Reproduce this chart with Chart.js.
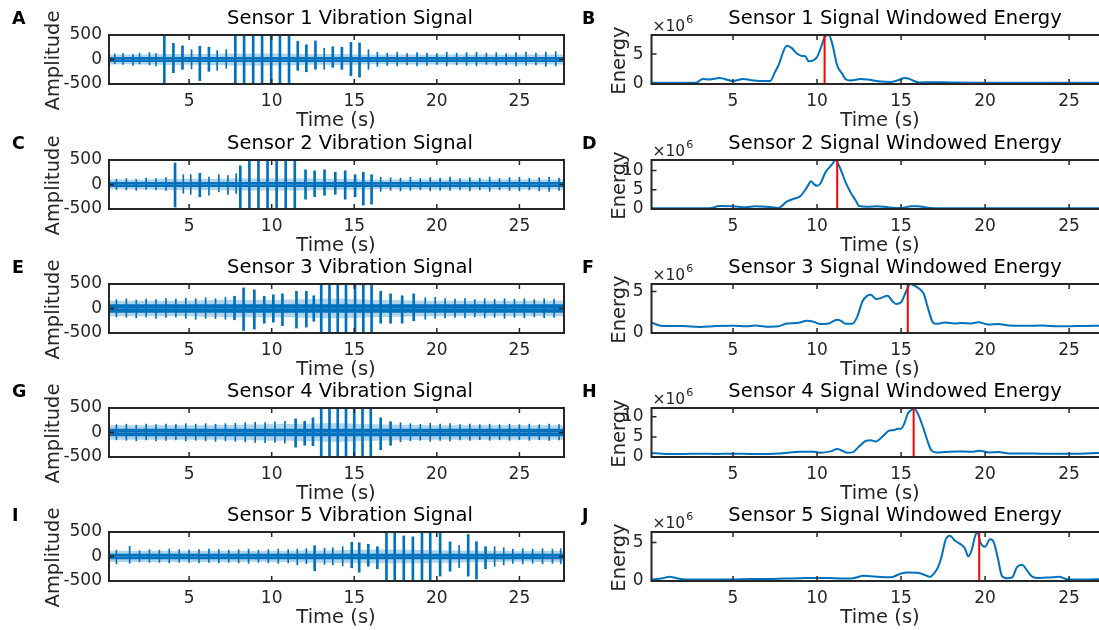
<!DOCTYPE html>
<html><head><meta charset="utf-8">
<script src="https://cdn.jsdelivr.net/npm/chart.js@4.4.1/dist/chart.umd.min.js"></script>
<style>
html,body{margin:0;padding:0;background:#fff;overflow:hidden;}
#fig{position:relative;width:1099px;height:630px;overflow:hidden;background:#fff;}
#fig canvas{position:absolute;}
</style></head><body><div id="fig"></div>
<script>
// ---------- DATA ----------
const xTicks = [5, 10, 15, 20, 25];
const ampTicks = [-500, 0, 500];
const energyTicks = [[0, 5], [0, 5, 10], [0, 5], [0, 5, 10], [0, 5]];
const energyMax = [8.2, 12.7, 5.9, 12.2, 6.38];      // x10^6
const peakTimes = [10.45, 11.2, 15.4, 15.75, 19.65];
const coreBand = [50, 50, 85, 75, 55];
const fuzzTimes = [0, 2, 4, 6, 8, 10, 12, 14, 16, 18, 20, 22, 24, 26, 28];
const s1Fuzz = [100,100,110,110,120,120,110,110,100,100,100,100,100,100,100];
const s2Fuzz = [100,100,110,110,120,120,120,110,100,100,100,100,100,100,100];
const s3Fuzz = [160,160,160,170,180,180,190,200,180,170,160,160,160,160,160];
const s4Fuzz = [150,150,150,150,160,170,180,190,170,160,150,150,150,150,150];
const s5Fuzz = [110,110,110,110,110,110,120,130,140,140,130,120,110,110,110];

// spikes: [time, high, low]
const s1Spikes = [[0.5,110,-90],[1.0,120,-100],[1.6,100,-120],[2.0,130,-90],[2.6,140,-110],[3.0,120,-130],
 [3.5,500,-500],[4.05,330,-270],[4.6,280,-200],[5.15,200,-190],[5.65,270,-430],[6.2,250,-240],[6.7,180,-220],[7.25,200,-180],
 [7.8,500,-500],[8.33,500,-500],[8.88,500,-500],[9.42,480,-500],[9.97,500,-500],[10.5,500,-500],[11.05,500,-500],
 [11.58,370,-220],[12.1,300,-250],[12.65,380,-200],[13.18,230,-200],[13.7,260,-160],[14.25,250,-200],[14.8,350,-330],[15.32,340,-360],[15.86,200,-200],
 [16.4,150,-140],[17.0,130,-120],[17.6,150,-130],[18.2,120,-110],[18.8,140,-130],[19.4,130,-120],[20.0,120,-100],[20.6,150,-130],[21.2,130,-110],
 [21.8,140,-120],[22.4,150,-130],[23.0,130,-100],[23.6,140,-120],[24.2,120,-110],[24.8,140,-130],[25.4,150,-120],[26.0,130,-110],[26.6,150,-140],[27.2,160,-130]];
const s2Spikes = [[0.6,110,-100],[1.2,120,-110],[1.8,100,-120],[2.4,130,-100],[3.0,120,-110],[3.6,140,-120],
 [4.15,440,-460],[4.65,200,-180],[5.1,200,-200],[5.65,230,-250],[6.2,150,-220],[6.8,200,-150],[7.35,180,-200],[7.85,220,-180],
 [8.1,380,-500],[8.65,500,-500],[9.2,500,-500],[9.75,500,-500],[10.3,500,-500],[10.85,500,-500],[11.4,500,-500],
 [12.05,300,-300],[12.6,280,-250],[13.2,300,-220],[13.85,250,-200],[14.45,280,-300],[15.05,200,-250],[15.55,250,-420],[16.05,200,-400],
 [16.6,150,-140],[17.2,140,-120],[17.8,130,-130],[18.4,150,-120],[19.0,120,-110],[19.6,140,-130],[20.2,130,-120],[20.8,150,-120],[21.4,120,-110],
 [22.0,140,-130],[22.6,130,-110],[23.2,150,-140],[23.8,120,-110],[24.4,140,-120],[25.0,150,-130],[25.6,130,-110],[26.2,140,-130],[26.8,150,-140],[27.4,130,-120]];
const s3Spikes = [[0.6,180,-170],[1.2,200,-180],[1.8,170,-190],[2.4,190,-170],[3.0,180,-200],[3.6,200,-180],[4.2,190,-170],[4.8,210,-200],
 [5.4,200,-220],[6.0,220,-200],[6.6,200,-210],[7.2,230,-220],[7.75,250,-230],
 [8.3,420,-450],[8.95,380,-420],[9.55,250,-300],[10.1,280,-280],[10.65,300,-350],[11.5,350,-400],[12.1,350,-380],[12.55,260,-260],
 [13.0,500,-500],[13.5,500,-500],[14.0,500,-500],[14.5,500,-500],[15.05,500,-500],[15.55,500,-500],[16.05,500,-500],
 [16.6,350,-300],[17.2,300,-300],[17.9,260,-300],[18.6,300,-250],[19.3,220,-220],[19.9,230,-200],
 [20.5,200,-190],[21.1,190,-180],[21.7,200,-190],[22.3,180,-170],[22.9,200,-190],[23.5,190,-180],[24.1,200,-200],[24.7,190,-180],
 [25.3,200,-190],[25.9,180,-170],[26.5,200,-190],[27.1,190,-180]];
const s4Spikes = [[0.6,160,-150],[1.2,170,-160],[1.8,150,-170],[2.4,170,-150],[3.0,160,-170],[3.6,170,-160],[4.2,160,-150],[4.8,180,-170],
 [5.4,170,-160],[6.0,180,-170],[6.6,170,-180],[7.2,180,-170],[7.8,190,-180],[8.4,200,-190],[9.0,210,-200],[9.6,200,-210],[10.2,220,-200],[10.8,230,-220],
 [11.45,280,-300],[12.0,230,-260],[12.5,300,-270],
 [13.0,500,-500],[13.5,500,-500],[14.0,500,-500],[14.5,500,-500],[15.0,500,-500],[15.5,500,-500],[16.0,500,-500],
 [16.6,300,-350],[17.2,220,-260],[17.8,200,-190],
 [18.4,180,-170],[19.0,170,-160],[19.6,190,-180],[20.2,170,-160],[20.8,180,-170],[21.4,160,-150],[22.0,170,-160],[22.6,160,-150],
 [23.2,170,-160],[23.8,160,-150],[24.4,170,-160],[25.0,160,-150],[25.6,170,-160],[26.2,160,-150],[26.8,170,-160],[27.4,160,-150]];
const s5Spikes = [[0.6,130,-150],[1.4,210,-140],[2.0,120,-110],[2.6,140,-120],[3.2,130,-120],[3.8,150,-130],[4.4,140,-120],[5.0,130,-120],
 [5.6,140,-130],[6.2,150,-120],[6.8,140,-130],[7.4,130,-120],[8.0,140,-130],[8.6,150,-140],[9.2,130,-120],[9.8,140,-130],[10.4,150,-140],
 [11.0,140,-130],[11.55,150,-170],[12.1,160,-150],[12.6,220,-290],[13.2,170,-160],[13.7,180,-170],[14.3,200,-190],
 [14.85,290,-230],[15.3,280,-320],[15.85,250,-200],[16.4,200,-250],
 [16.95,500,-500],[17.45,500,-500],[18.0,420,-500],[18.55,400,-480],[19.1,500,-500],[19.6,500,-500],[20.2,500,-400],
 [20.8,300,-300],[21.35,230,-230],[21.9,450,-400],[22.4,300,-460],[22.95,200,-250],[23.5,200,-200],[24.05,180,-170],
 [24.6,150,-140],[25.2,160,-150],[25.8,150,-140],[26.4,160,-150],[27.0,150,-140],[27.5,160,-150]];

// windowed energy (x10^6)
const e1T = [0.15,2.8,3.2,3.6,4.2,5.0,5.6,6.2,7.2,7.5,7.7,8.2,8.5,8.8,9.1,9.3,9.5,9.8,10.0,10.25,10.5,10.7,10.9,11.2,11.5,11.7,12.0,12.6,13.0,13.8,14.4,14.9,15.2,15.5,15.8,16.1,16.8,18,20,22,24,26,27.7];
const e1V = [0.2,0.2,0.85,0.75,1.0,0.5,0.85,0.6,0.5,2.0,3.1,6.4,6.0,5.1,4.7,4.65,3.8,4.0,4.5,6.25,8.05,8.2,6.8,3.1,1.7,0.8,0.6,0.85,0.75,0.4,0.35,0.7,1.0,0.85,0.45,0.25,0.3,0.25,0.22,0.22,0.22,0.2,0.2];
const e2T = [0.15,3.6,4.2,5.0,5.8,6.3,7.2,7.7,8.2,8.6,9.0,9.4,9.65,9.8,10.0,10.2,10.5,10.9,11.1,11.4,11.7,12.0,12.3,12.5,13.0,13.6,14.2,15.0,15.6,16.0,16.6,17.4,20,24,27.7];
const e2V = [0.2,0.2,0.78,0.7,0.45,0.7,0.5,0.26,1.9,2.6,3.3,5.6,7.2,6.5,6.0,6.6,9.5,11.6,12.7,10.3,6.9,4.3,2.2,0.8,0.6,0.7,0.45,0.26,0.7,0.7,0.35,0.2,0.18,0.18,0.18];
const e3T = [0.15,0.8,2.0,3.0,4.0,5.0,5.8,6.3,7.2,7.7,8.2,8.8,9.4,9.8,10.2,10.7,11.2,11.4,11.7,12.1,12.4,12.7,13.0,13.2,13.5,13.8,14.2,14.5,14.7,15.0,15.3,15.55,15.8,16.1,16.35,16.6,16.9,17.1,17.6,18.2,18.6,19.2,19.6,20.2,20.8,21.4,22.4,23.4,24.4,25.4,26.6,27.7];
const e3V = [1.25,0.83,0.83,0.72,0.83,0.87,0.8,0.9,0.75,0.8,1.15,1.2,1.47,1.35,1.07,1.15,1.6,1.5,1.1,1.1,2.0,3.8,4.5,4.6,4.1,4.2,4.5,3.8,3.5,3.7,5.0,5.9,5.7,5.3,4.7,3.0,1.25,1.1,1.25,1.15,1.2,1.15,1.3,1.03,1.07,0.9,0.87,0.9,0.8,0.83,0.87,0.85];
const e4T = [0.15,0.8,2.0,3.0,4.0,5.0,6.0,7.2,7.8,8.4,9.0,9.8,10.2,10.8,11.2,11.5,11.8,12.1,12.5,12.9,13.2,13.5,13.9,14.3,14.6,14.8,15.0,15.2,15.4,15.65,15.75,16.0,16.3,16.55,16.8,17.1,17.6,18.4,19.2,19.7,20.2,20.8,21.4,22.4,23.4,24.4,25.4,26.6,27.7];
const e4V = [1.0,0.82,0.74,0.82,0.74,0.82,0.74,0.74,0.9,1.15,1.3,1.3,1.07,1.4,1.97,1.56,1.07,1.15,2.6,4.0,4.2,3.85,5.1,6.6,6.7,7.05,7.05,8.4,10.8,11.8,12.2,10.8,7.5,4.3,1.64,1.15,1.23,1.4,1.3,1.56,1.15,1.23,0.9,0.9,0.82,0.82,0.82,0.98,0.95];
const e5T = [0.15,0.8,1.2,1.6,2.0,3.0,5.0,6.0,7.0,8.0,9.0,10.0,11.0,12.0,12.8,13.4,14.0,14.4,15.0,15.4,16.0,16.4,16.7,17.0,17.2,17.4,17.65,17.9,18.2,18.6,18.8,19.0,19.2,19.4,19.55,19.7,20.0,20.3,20.5,20.75,21.0,21.3,21.6,21.9,22.2,22.5,22.8,23.2,23.8,24.4,24.8,25.4,26.6,27.7];
const e5V = [0.18,0.36,0.54,0.4,0.22,0.18,0.18,0.27,0.27,0.31,0.36,0.4,0.36,0.31,0.67,0.58,0.49,0.49,0.98,1.1,1.07,0.8,0.54,1.1,1.8,3.1,5.36,5.9,5.27,4.7,4.24,3.2,4.0,5.8,6.38,5.13,4.46,5.45,5.13,3.1,0.67,0.36,0.45,1.8,2.1,1.34,0.58,0.4,0.45,0.54,0.27,0.18,0.22,0.25];

const leftTitles = ['Sensor 1 Vibration Signal','Sensor 2 Vibration Signal','Sensor 3 Vibration Signal','Sensor 4 Vibration Signal','Sensor 5 Vibration Signal'];
const rightTitles = ['Sensor 1 Signal Windowed Energy','Sensor 2 Signal Windowed Energy','Sensor 3 Signal Windowed Energy','Sensor 4 Signal Windowed Energy','Sensor 5 Signal Windowed Energy'];
const letters = [['A','B'],['C','D'],['E','F'],['G','H'],['I','J']];

// ---------- LAYOUT / STYLE ----------
const FONT = '"DejaVu Sans", "Liberation Sans", sans-serif';
const BLUE = '#0072BD', RED = '#FF0000', AX = '#262626';
const X_MIN = 0.15, X_MAX = 27.7;
const rowTops = [35, 160, 284, 408, 532];
const TOPPAD = 35, BOXH = 49, CH = 134;
const L = {cx: 0, w: 575, boxL: 109, boxR: 564, titleX: 350, letterX: 12, ylabX: 54, xlabX: 336};
const R = {cx: 575, w: 545, boxL: 651.5, boxR: 1114.5, titleX: 895, letterX: 582, ylabX: 620, xlabX: 880};
const MAJOR = 250;   // spikes reaching this amplitude are drawn thicker

const spikeSets = [s1Spikes, s2Spikes, s3Spikes, s4Spikes, s5Spikes];
const fuzzSets = [s1Fuzz, s2Fuzz, s3Fuzz, s4Fuzz, s5Fuzz];
const eTs = [e1T, e2T, e3T, e4T, e5T];
const eVs = [e1V, e2V, e3V, e4V, e5V];

function decorPlugin(side, row, isEnergy) {
  return {
    id: 'decor',
    afterDraw(chart) {
      const ctx = chart.ctx, a = chart.chartArea;
      const xs = chart.scales.x, ys = chart.scales.y;
      ctx.save();
      ctx.strokeStyle = AX;
      ctx.lineWidth = 1.5;
      ctx.beginPath();
      xs.ticks.forEach(t => {
        const p = xs.getPixelForValue(t.value);
        ctx.moveTo(p, a.bottom); ctx.lineTo(p, a.bottom - 5);
        ctx.moveTo(p, a.top); ctx.lineTo(p, a.top + 5);
      });
      ys.ticks.forEach(t => {
        const p = ys.getPixelForValue(t.value);
        ctx.moveTo(a.left, p); ctx.lineTo(a.left + 5, p);
        ctx.moveTo(a.right, p); ctx.lineTo(a.right - 5, p);
      });
      ctx.stroke();
      ctx.lineWidth = 2;
      ctx.strokeRect(a.left, a.top, a.right - a.left, a.bottom - a.top);

      const off = side.cx;
      ctx.fillStyle = '#000';
      ctx.textAlign = 'center'; ctx.textBaseline = 'middle';
      ctx.font = '19.5px ' + FONT;
      ctx.fillText(isEnergy ? rightTitles[row] : leftTitles[row], side.titleX - off, TOPPAD - 16.5);
      ctx.fillStyle = AX;
      ctx.fillText('Time (s)', side.xlabX - off, TOPPAD + BOXH + 37);
      ctx.save();
      ctx.translate(side.ylabX - off, TOPPAD + BOXH / 2 + 1);
      ctx.rotate(-Math.PI / 2);
      ctx.fillText(isEnergy ? 'Energy' : 'Amplitude', 0, 0);
      ctx.restore();
      ctx.fillStyle = '#000';
      ctx.textAlign = 'left';
      ctx.font = 'bold 17.5px ' + FONT;
      ctx.fillText(letters[row][isEnergy ? 1 : 0], side.letterX - off, TOPPAD - 15.5);
      if (isEnergy) {
        ctx.fillStyle = AX;
        ctx.font = '15.5px ' + FONT;
        const x0 = a.left + 1;
        ctx.fillText('\u00D710', x0, TOPPAD - 8.5);
        const w = ctx.measureText('\u00D710').width;
        ctx.font = '11px ' + FONT;
        ctx.fillText('6', x0 + w + 1, TOPPAD - 15);
      }
      ctx.restore();
    }
  };
}

function makeCanvas(side, row) {
  const c = document.createElement('canvas');
  c.width = side.w; c.height = CH;
  c.style.left = side.cx + 'px';
  c.style.top = (rowTops[row] - TOPPAD) + 'px';
  c.style.width = side.w + 'px'; c.style.height = CH + 'px';
  document.getElementById('fig').appendChild(c);
  return c;
}

function baseScales(side, yMin, yMax, yTicks, yPad) {
  return {
    x: {
      type: 'linear', min: X_MIN, max: X_MAX, offset: false,
      grid: {display: false, drawTicks: false}, border: {display: false},
      ticks: {font: {family: FONT, size: 17}, color: AX, padding: 7, maxRotation: 0, autoSkip: false},
      afterBuildTicks: s => { s.ticks = xTicks.map(v => ({value: v})); },
      afterFit: s => { s.height = CH - TOPPAD - BOXH; }
    },
    y: {
      type: 'linear', min: yMin, max: yMax,
      grid: {display: false, drawTicks: false}, border: {display: false},
      ticks: {font: {family: FONT, size: 17}, color: AX, padding: yPad, autoSkip: false},
      afterBuildTicks: s => { s.ticks = yTicks.map(v => ({value: v})); },
      afterFit: s => { s.width = side.boxL - side.cx; }
    }
  };
}

function commonOpts(side, scales) {
  return {
    responsive: false, animation: false, devicePixelRatio: 1,
    layout: {padding: {top: TOPPAD, left: 0, bottom: 0, right: side.w - (side.boxR - side.cx)}},
    scales,
    plugins: {legend: {display: false}, tooltip: {enabled: false}, title: {display: false}}
  };
}

for (let r = 0; r < 5; r++) {
  // vibration signal panel
  const fuzzUp = fuzzTimes.map((t, i) => ({x: t, y: fuzzSets[r][i]}));
  const fuzzDn = fuzzTimes.map((t, i) => ({x: t, y: -fuzzSets[r][i]}));
  const coreUp = [{x: 0, y: coreBand[r]}, {x: 28, y: coreBand[r]}];
  const coreDn = [{x: 0, y: -coreBand[r]}, {x: 28, y: -coreBand[r]}];
  const major = spikeSets[r].filter(s => Math.max(s[1], -s[2]) >= MAJOR).map(s => ({x: s[0], y: [s[2], s[1]]}));
  const minor = spikeSets[r].filter(s => Math.max(s[1], -s[2]) < MAJOR).map(s => ({x: s[0], y: [s[2], s[1]]}));
  new Chart(makeCanvas(L, r), {
    type: 'bar',
    data: {datasets: [
      {type: 'bar', data: major, backgroundColor: BLUE, barThickness: 2, grouped: false, borderWidth: 0},
      {type: 'bar', data: minor, backgroundColor: BLUE, barThickness: 1, grouped: false, borderWidth: 0},
      {type: 'line', data: coreUp, borderWidth: 0, pointRadius: 0, fill: 'origin', backgroundColor: BLUE},
      {type: 'line', data: coreDn, borderWidth: 0, pointRadius: 0, fill: 'origin', backgroundColor: BLUE},
      {type: 'line', data: fuzzUp, borderWidth: 0, pointRadius: 0, tension: 0.4, fill: 'origin', backgroundColor: 'rgba(0,114,189,0.3)'},
      {type: 'line', data: fuzzDn, borderWidth: 0, pointRadius: 0, tension: 0.4, fill: 'origin', backgroundColor: 'rgba(0,114,189,0.3)'}
    ]},
    options: commonOpts(L, baseScales(L, -500, 500, ampTicks, 7)),
    plugins: [decorPlugin(L, r, false)]
  });

  // energy panel
  const eData = eTs[r].map((t, i) => ({x: t, y: eVs[r][i]}));
  const redLine = [{x: peakTimes[r], y: 0}, {x: peakTimes[r], y: energyMax[r]}];
  new Chart(makeCanvas(R, r), {
    type: 'line',
    data: {datasets: [
      {data: redLine, borderColor: RED, borderWidth: 2, pointRadius: 0, order: 0},
      {data: eData, borderColor: BLUE, borderWidth: 2, pointRadius: 0, cubicInterpolationMode: 'monotone', order: 1}
    ]},
    options: commonOpts(R, baseScales(R, 0, energyMax[r], energyTicks[r], 8)),
    plugins: [decorPlugin(R, r, true)]
  });
}
</script></body></html>
